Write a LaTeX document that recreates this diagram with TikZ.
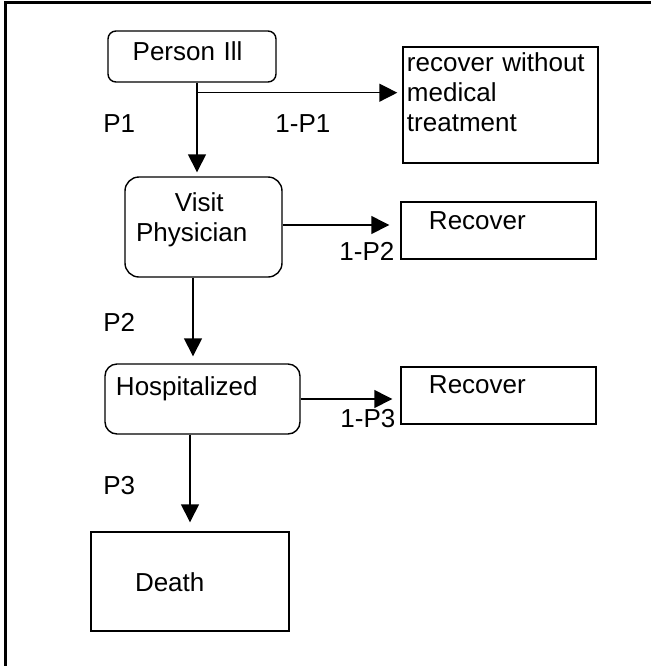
\documentclass[tikz,border=0pt]{standalone}
\usepackage{fontspec}
\setmainfont{Liberation Sans}
\usetikzlibrary{arrows.meta}

\begin{document}
\begin{tikzpicture}[x=0.5pt,y=-0.5pt,
    stage/.style={draw,line width=0.7pt,rounded corners=6pt,align=left,inner ysep=0pt,
      text height=10pt,font=\fontsize{13}{15}\selectfont},
    outcome/.style={stage,sharp corners},
    prob/.style={anchor=base west,inner sep=0pt,font=\fontsize{13}{15}\selectfont},
    flow/.style={line width=0.7pt,-{Triangle[length=9pt,width=9pt]}}]
  \useasboundingbox (0,0) rectangle (651,666);
  \draw[line width=1.5pt] (651,2) -- (5.5,2) -- (5.5,666);

  \node[stage,rounded corners=4pt,minimum width=84pt,minimum height=25.5pt,
    inner xsep=12.35pt,text width=59.3pt,text depth=5.9pt] (ill) at (192,56.5) {Person Ill};
  \node[stage,rounded corners=7pt,minimum width=78.5pt,minimum height=50pt,
    inner xsep=5.5pt,text width=67.5pt,text depth=25.7pt] (vis) at (203.5,227)
    {\hspace*{19.5pt}Visit\\Physician};
  \node[stage,minimum width=97.5pt,minimum height=35pt,
    inner xsep=5.5pt,text width=86.5pt,text depth=13.7pt] (hosp) at (202.5,399) {Hospitalized};
  \node[outcome,minimum width=99pt,minimum height=49.5pt,
    inner xsep=22pt,text width=55pt,text depth=0.2pt] (death) at (190,581.5) {Death};

  \node[outcome,minimum width=97.5pt,minimum height=58pt,
    inner xsep=2pt,text width=93.5pt,text depth=44pt] (recA) at (500.5,105)
    {recover without\\medical\\treatment};
  \node[outcome,minimum width=97.5pt,minimum height=28.5pt,
    inner xsep=14pt,text width=69.5pt,text depth=11.2pt] (recB) at (498.5,230.5) {Recover};
  \node[outcome,minimum width=97.5pt,minimum height=28.5pt,
    inner xsep=14pt,text width=69.5pt,text depth=12.2pt] (recC) at (498.5,395.5) {Recover};

  \coordinate (split) at ([xshift=2.5pt,yshift=-5pt]ill.south);
  \draw[flow,shorten >=2pt] ([xshift=2.5pt]ill.south) -- ([xshift=2.5pt]ill.south |- vis.north);
  \draw[flow,shorten >=2.5pt] (split) -- (split -| recA.west);
  \draw[flow,shorten >=5.5pt] ([yshift=1pt]vis.east) -- ([yshift=1pt]vis.east -| recB.west);
  \draw[flow,shorten >=3.5pt] ([xshift=-5.25pt]vis.south) -- ([xshift=-5.25pt]vis.south |- hosp.north);
  \draw[flow,shorten >=4pt] (hosp.east) -- (hosp.east -| recC.west);
  \draw[flow,shorten >=4.5pt] (hosp.south -| death.north) -- (death.north);

  \node[prob] (p1) at (103,132.3) {P1};
  \node[prob] (q1) at (275,132.3) {1-P1};
  \node[prob] (p2) at (103,331.3) {P2};
  \node[prob] (q2) at (339,260.3) {1-P2};
  \node[prob] (p3) at (103,494.3) {P3};
  \node[prob] (q3) at (340,427.3) {1-P3};
\end{tikzpicture}
\end{document}
